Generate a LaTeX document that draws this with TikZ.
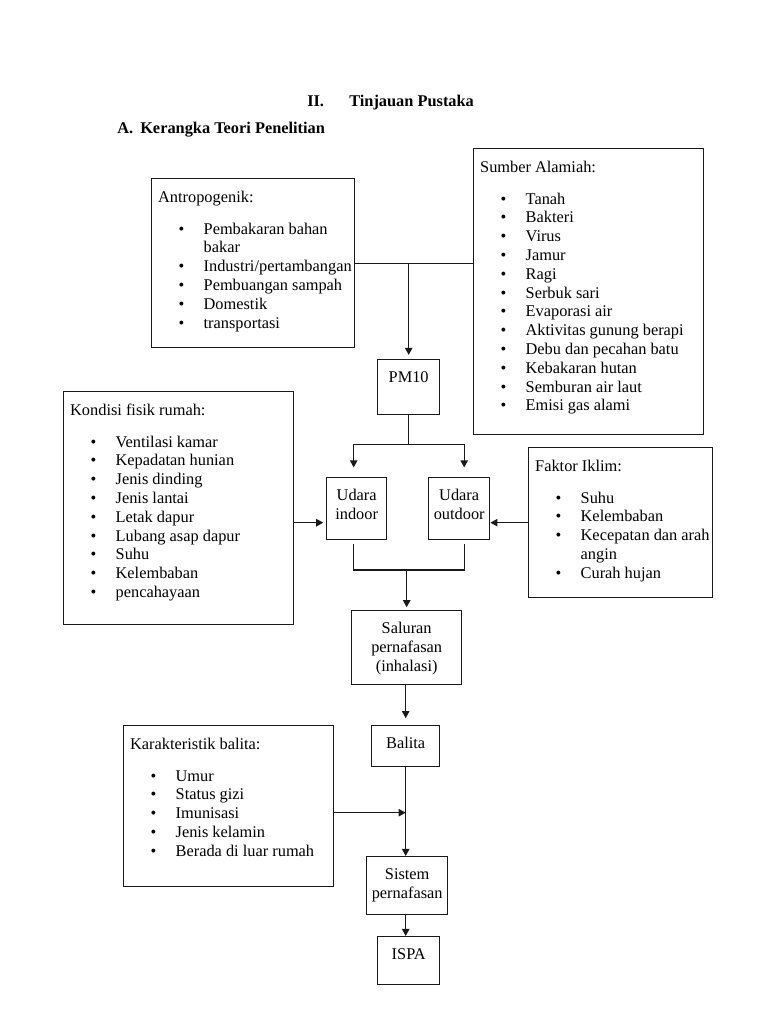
\documentclass[tikz,border=0pt]{standalone}
\usepackage{fontspec}
\setmainfont{Liberation Serif}
\usetikzlibrary{calc,arrows.meta}

\newdimen\px \px=0.734pt
% boxes with a title and a bullet list
\newcommand{\lbox}[3]{\begin{minipage}[t][#2\px][t]{#1\px}#3\end{minipage}}
\newcommand{\ltitle}[1]{\hspace*{6.5\px}\rule{0pt}{23.5\px}#1\par\vspace{13.2\px}}
\newcommand{\litem}[1]{\hspace*{27\px}\makebox[25\px][l]{\textbullet}#1\par}
\newcommand{\lcont}[1]{\hspace*{52\px}#1\par}
% small boxes with centred text
\newcommand{\cbox}[3]{\begin{minipage}[t][#2\px][t]{#1\px}\centering\rule{0pt}{23\px}#3\end{minipage}}

\begin{document}
\begin{tikzpicture}[x=0.734pt, y=-0.734pt, font=\fontsize{12pt}{13.8pt}\selectfont,
    box/.style={draw=black!90, line width=1pt, inner sep=0pt, anchor=north west},
    line/.style={draw=black!90, line width=1pt},
    arr/.style={line, -{Triangle[length=5.2pt,width=5.4pt]}},
    head/.style={anchor=base west, inner sep=0pt, font=\fontsize{12pt}{13.8pt}\selectfont\bfseries}]
  \fill[white] (0,0) rectangle (768,1024);

  % headings
  \node[head] (hdnum) at (307,106.5) {II.};
  \node[head] (hdname) at (349,106.5) {Tinjauan Pustaka};
  \node[head] (subnum) at (117,133) {A.};
  \node[head] (subname) at (140,133) {Kerangka Teori Penelitian};

  % sources of PM10
  \node[box] (antro) at (151,178) {\lbox{203}{169}{\ltitle{Antropogenik:}
    \litem{Pembakaran bahan}\lcont{bakar}
    \litem{Industri/pertambangan}
    \litem{Pembuangan sampah}
    \litem{Domestik}
    \litem{transportasi}}};
  \node[box] (sumber) at (473,148) {\lbox{230}{286}{\ltitle{Sumber Alamiah:}
    \litem{Tanah}
    \litem{Bakteri}
    \litem{Virus}
    \litem{Jamur}
    \litem{Ragi}
    \litem{Serbuk sari}
    \litem{Evaporasi air}
    \litem{Aktivitas gunung berapi}
    \litem{Debu dan pecahan batu}
    \litem{Kebakaran hutan}
    \litem{Semburan air laut}
    \litem{Emisi gas alami}}};

  % main chain
  \node[box] (pm) at (377,359) {\cbox{62}{55}{PM10}};
  \node[box] (indoor) at (326,477) {\cbox{60}{62}{Udara\\indoor}};
  \node[box] (outdoor) at (428,477) {\cbox{61}{62}{Udara\\outdoor}};
  \node[box] (sal) at (351,610) {\cbox{110}{74}{Saluran\\pernafasan\\(inhalasi)}};
  \node[box] (balita) at (371,725) {\cbox{68}{41}{Balita}};
  \node[box] (sistem) at (366,856) {\cbox{81}{58}{Sistem\\pernafasan}};
  \node[box] (ispa) at (377,936) {\cbox{62}{48}{ISPA}};

  % side factors
  \node[box] (kondisi) at (63,391) {\lbox{230}{233}{\ltitle{Kondisi fisik rumah:}
    \litem{Ventilasi kamar}
    \litem{Kepadatan hunian}
    \litem{Jenis dinding}
    \litem{Jenis lantai}
    \litem{Letak dapur}
    \litem{Lubang asap dapur}
    \litem{Suhu}
    \litem{Kelembaban}
    \litem{pencahayaan}}};
  \node[box] (faktor) at (528,447) {\lbox{184}{150}{\ltitle{Faktor Iklim:}
    \litem{Suhu}
    \litem{Kelembaban}
    \litem{Kecepatan dan arah}\lcont{angin}
    \litem{Curah hujan}}};
  \node[box] (karakter) at (123,725) {\lbox{210}{161}{\ltitle{Karakteristik balita:}
    \litem{Umur}
    \litem{Status gizi}
    \litem{Imunisasi}
    \litem{Jenis kelamin}
    \litem{Berada di luar rumah}}};

  % connectors
  \draw[line] (antro.east) -- (antro.east -| sumber.west);
  \draw[arr, shorten >=3pt] (antro.east -| pm.north) -- (pm.north);

  \coordinate (split) at ($(pm.south)+(0,29)$);
  \coordinate (inx) at ($(indoor.north)+(-3,0)$);
  \coordinate (outx) at ($(outdoor.north)+(5,0)$);
  \draw[line] (pm.south) -- (split);
  \draw[arr, shorten >=7pt] (split) -| (inx);
  \draw[arr, shorten >=7pt] (split) -| (outx);

  \coordinate (join) at ($(sal.north)+(0,-40)$);
  \draw[line, shorten <=3pt] (inx |- indoor.south) |- (join);
  \draw[line, shorten <=3pt] (outx |- outdoor.south) |- (join);
  \draw[arr, shorten >=2pt] (join) -- (sal.north);

  \coordinate (inlvl) at ($(indoor.west)+(0,14)$);
  \draw[arr, shorten >=2pt] (kondisi.east |- inlvl) -- (inlvl);
  \coordinate (outlvl) at ($(outdoor.east)+(0,14)$);
  \draw[arr] (faktor.west |- outlvl) -- (outlvl);

  \draw[arr, shorten >=5pt] (balita.north |- sal.south) -- (balita.north);
  \draw[arr] (balita.south) -- (balita.south |- sistem.north);
  \coordinate (karlvl) at ($(karakter.east)+(0,6.5)$);
  \draw[arr] (karakter.east |- karlvl) -- (balita.south |- karlvl);
  \draw[arr] (balita.south |- sistem.south) -- (balita.south |- ispa.north);
\end{tikzpicture}
\end{document}
